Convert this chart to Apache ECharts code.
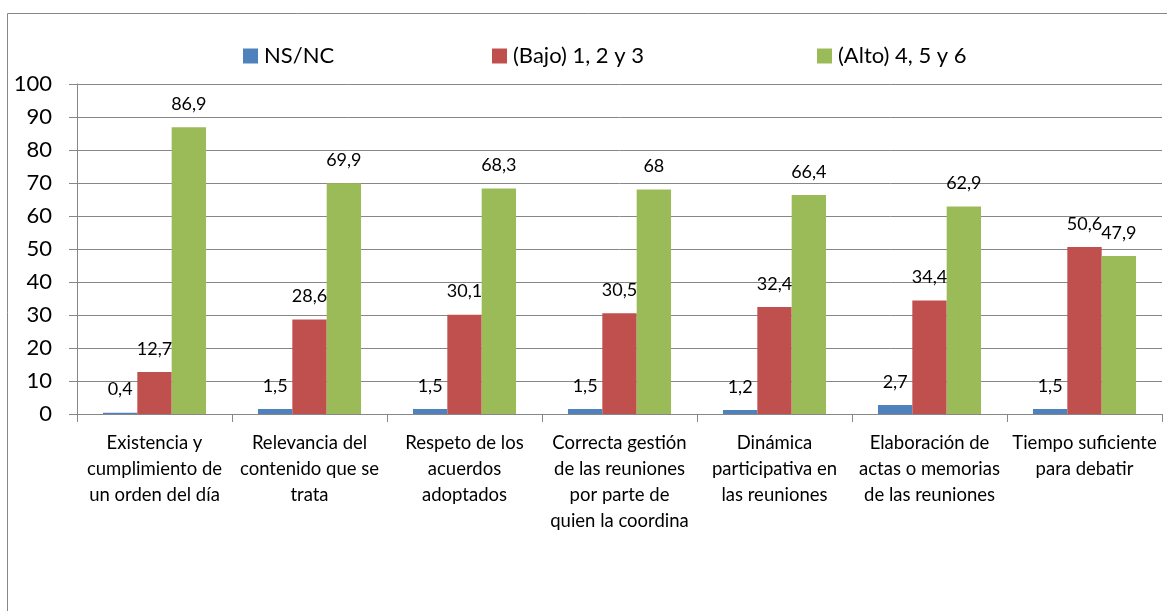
<!DOCTYPE html>
<html>
<head>
<meta charset="utf-8">
<script src="https://cdn.jsdelivr.net/npm/echarts@6/dist/echarts.min.js"></script>
<style>
  html, body { margin: 0; padding: 0; background: #fff; }
  #chart { width: 1167px; height: 611px; }
</style>
</head>
<body>
<div id="chart"></div>
<script>
// categorías (con los saltos de línea del original)
const categories = [
  'Existencia y\ncumplimiento de\nun orden del día',
  'Relevancia del\ncontenido que se\ntrata',
  'Respeto de los\nacuerdos\nadoptados',
  'Correcta gestión\nde las reuniones\npor parte de\nquien la coordina',
  'Dinámica\nparticipativa en\nlas reuniones',
  'Elaboración de\nactas o memorias\nde las reuniones',
  'Tiempo suficiente\npara debatir'
];

const seriesNames = ['NS/NC', '(Bajo) 1, 2 y 3', '(Alto) 4, 5 y 6'];

const nsnc = [0.4, 1.5, 1.5, 1.5, 1.2, 2.7, 1.5];
const bajo = [12.7, 28.6, 30.1, 30.5, 32.4, 34.4, 50.6];
const alto = [86.9, 69.9, 68.3, 68, 66.4, 62.9, 47.9];

const yTicks = { min: 0, max: 100, interval: 10 };

const colors = ['#4F81BD', '#C0504D', '#9BBB59'];
const FONT = 'Lato, "Open Sans", sans-serif';
const gray = '#878787';

const chart = echarts.init(document.getElementById('chart'));

// etiqueta con coma decimal
const label = {
  show: true,
  position: 'top',
  distance: 14,
  fontFamily: FONT,
  fontSize: 18,
  color: '#000',
  formatter: p => String(p.value).replace('.', ',')
};

const mkSeries = (name, data, i) => ({
  name: name,
  type: 'bar',
  data: data,
  barGap: '0%',
  barCategoryGap: '33.5%',
  itemStyle: { color: colors[i] },
  label: label
});

// una leyenda por serie, como en Excel cada entrada ocupa su hueco
const legendLeft = [243, 492, 817];
const legends = seriesNames.map((n, i) => ({
  data: [n],
  left: legendLeft[i],
  top: 45,
  itemWidth: 15,
  itemHeight: 15,
  itemGap: 0,
  padding: 0,
  textStyle: { fontFamily: FONT, fontSize: 22, color: '#000', padding: [0, 0, 0, 1] },
  icon: 'rect',
  selectedMode: false
}));

const option = {
  animation: false,
  color: colors,
  graphic: [{
    type: 'rect',
    shape: { x: 7.5, y: 13.5, width: 1300, height: 800 },
    style: { fill: 'none', stroke: gray, lineWidth: 1 },
    silent: true
  }],
  legend: legends,
  grid: { left: 77, right: 5, top: 84, bottom: 197 },
  xAxis: {
    type: 'category',
    data: categories,
    axisLine: { lineStyle: { color: gray, width: 1 } },
    axisTick: { show: true, length: 8, lineStyle: { color: gray } },
    axisLabel: {
      interval: 0,
      margin: 16,
      fontFamily: FONT,
      fontSize: 18.5,
      lineHeight: 26,
      color: '#000'
    }
  },
  yAxis: {
    type: 'value',
    min: yTicks.min,
    max: yTicks.max,
    interval: yTicks.interval,
    axisLine: { show: true, lineStyle: { color: gray, width: 1 } },
    axisTick: { show: true, length: 8, lineStyle: { color: gray } },
    splitLine: { lineStyle: { color: gray, width: 1 } },
    axisLabel: {
      margin: 25,
      fontFamily: FONT,
      fontSize: 22,
      color: '#000'
    }
  },
  series: [
    mkSeries(seriesNames[0], nsnc, 0),
    mkSeries(seriesNames[1], bajo, 1),
    mkSeries(seriesNames[2], alto, 2)
  ]
};

chart.setOption(option);
</script>
</body>
</html>
